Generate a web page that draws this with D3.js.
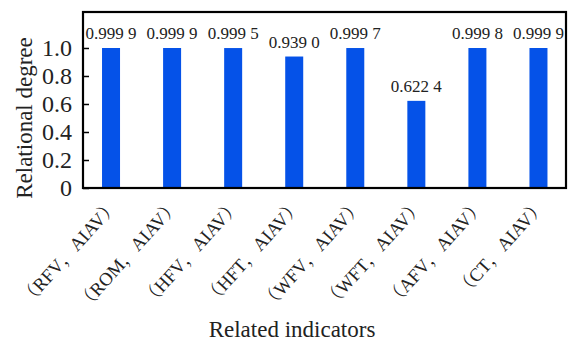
<!DOCTYPE html>
<html><head><meta charset="utf-8">
<script src="https://cdn.jsdelivr.net/npm/d3@7"></script>
<style>body{margin:0;background:#fff;} svg{display:block;}</style>
</head><body>
<svg id="c" width="571" height="343"></svg>
<script>
const categories = ["（RFV，AIAV）","（ROM，AIAV）","（HFV，AIAV）","（HFT，AIAV）","（WFV，AIAV）","（WFT，AIAV）","（AFV，AIAV）","（CT，AIAV）"];
const values = [0.9999, 0.9999, 0.9995, 0.9390, 0.9997, 0.6224, 0.9998, 0.9999];
const valueLabels = ["0.999 9","0.999 9","0.999 5","0.939 0","0.999 7","0.622 4","0.999 8","0.999 9"];
const yTicks = [0, 0.2, 0.4, 0.6, 0.8, 1.0];
const yTickLabels = ["0","0.2","0.4","0.6","0.8","1.0"];

const FONT = "'Liberation Serif','Noto Serif CJK SC',serif";
const svg = d3.select("#c");
const L = 83, R = 566, T = 12, B = 188;
const x = d3.scaleBand().domain(categories).range([80.5, 569]).padding(0);
const y = d3.scaleLinear().domain([0, 1.257]).range([B, T]);
const bw = 18;

svg.selectAll("rect.bar").data(values).join("rect")
  .attr("class","bar")
  .attr("x",(d,i)=>x(categories[i])+x.bandwidth()/2-bw/2)
  .attr("width",bw)
  .attr("y",d=>y(d))
  .attr("height",d=>B-y(d))
  .attr("fill","#0552e8");

svg.selectAll("text.vl").data(values).join("text")
  .attr("class","vl")
  .attr("x",(d,i)=>x(categories[i])+x.bandwidth()/2)
  .attr("y",d=>y(d)-9)
  .attr("text-anchor","middle")
  .attr("font-family",FONT).attr("font-size",17).attr("fill","#222")
  .text((d,i)=>valueLabels[i]);

// y axis
const yAxis = d3.axisLeft(y).tickValues(yTicks).tickFormat((d,i)=>yTickLabels[i]).tickSize(-6).tickPadding(11);
const gy = svg.append("g").attr("transform",`translate(${L},0)`).call(yAxis);
gy.select(".domain").remove();
gy.attr("font-family",FONT).attr("font-size",24);
gy.selectAll(".tick line").attr("stroke","#000").attr("stroke-width",1.5);
gy.selectAll(".tick text").attr("fill","#222");

// frame
svg.append("rect").attr("x",L).attr("y",T).attr("width",R-L).attr("height",B-T)
  .attr("fill","none").attr("stroke","#000").attr("stroke-width",2.2);

// x labels
svg.selectAll("text.xl").data(categories).join("text")
  .attr("class","xl")
  .attr("transform",d=>`translate(${x(d)+x.bandwidth()/2+8},206) rotate(-48)`)
  .attr("text-anchor","end")
  .attr("font-family",FONT).attr("font-size",18.5).attr("fill","#222")
  .text(d=>d);

svg.append("text").attr("x",292).attr("y",337).attr("text-anchor","middle")
  .attr("font-family",FONT).attr("font-size",23).attr("fill","#222").text("Related indicators");
svg.append("text").attr("transform","translate(32,118) rotate(-90)").attr("text-anchor","middle")
  .attr("font-family",FONT).attr("font-size",23).attr("fill","#222").text("Relational degree");
</script>
</body></html>
